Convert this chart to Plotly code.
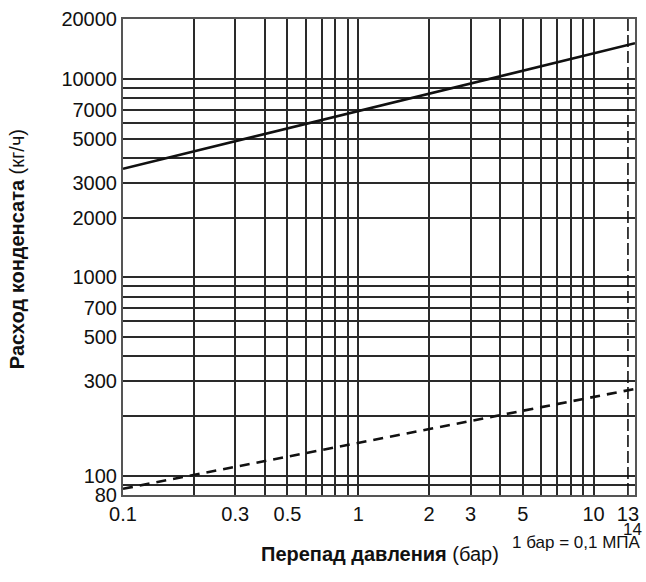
import math
import plotly.graph_objects as go

# ---- data ----
dp_solid = [0.1, 1, 15]
q_solid = [3520, 6850, 15100]
dp_dashed = [0.1, 1, 15]
q_dashed = [86, 147, 274]
limit_dp = [14, 14]
limit_q = [80, 20000]

x_grid = [0.2, 0.3, 0.4, 0.5, 0.6, 0.7, 0.8, 0.9, 1, 2, 3, 4, 5, 6, 7, 8, 9, 10]
x_tickvals = [0.1, 0.3, 0.5, 1, 2, 3, 5, 10, 14]
x_ticktext = ["0.1", "0.3", "0.5", "1", "2", "3", "5", "10", "13"]
y_grid = [90, 100, 200, 300, 400, 500, 600, 700, 800, 900, 1000,
          2000, 3000, 4000, 5000, 6000, 7000, 8000, 9000, 10000]
y_tickvals = [80, 100, 300, 500, 700, 1000, 2000, 3000, 5000, 7000, 10000, 20000]
y_ticktext = ["80", "100", "300", "500", "700", "1000", "2000", "3000",
              "5000", "7000", "10000", "20000"]
x_range = [0.1, 15]
y_range = [80, 20000]

FONT = "Liberation Sans, Arial, sans-serif"

fig = go.Figure()
fig.add_trace(go.Scatter(x=dp_solid, y=q_solid, mode="lines",
                         line=dict(color="#111", width=2.6), showlegend=False))
fig.add_trace(go.Scatter(x=dp_dashed, y=q_dashed, mode="lines",
                         line=dict(color="#111", width=2.6, dash="10px,7px"), showlegend=False))
fig.add_trace(go.Scatter(x=limit_dp, y=limit_q, mode="lines",
                         line=dict(color="#111", width=1.6, dash="12px,4px"), showlegend=False))

fig.update_xaxes(type="log", range=[math.log10(x_range[0]), math.log10(x_range[1])],
                 tickmode="array", tickvals=x_tickvals, ticktext=x_ticktext,
                 showgrid=False, ticks="", zeroline=False,
                 showline=True, mirror=True, linecolor="#555", linewidth=2,
                 tickfont=dict(family=FONT, size=20, color="#111"),
                 minor=dict(tickmode="array", tickvals=x_grid, showgrid=True,
                            gridcolor="#2a2a2a", gridwidth=1.6, ticks=""))
fig.update_yaxes(type="log", range=[math.log10(y_range[0]), math.log10(y_range[1])],
                 tickmode="array", tickvals=y_tickvals, ticktext=y_ticktext,
                 showgrid=False, ticks="", zeroline=False,
                 showline=True, mirror=True, linecolor="#555", linewidth=2,
                 tickfont=dict(family=FONT, size=20, color="#111"),
                 minor=dict(tickmode="array", tickvals=y_grid, showgrid=True,
                            gridcolor="#2a2a2a", gridwidth=1.6, ticks=""))

L, R, T, B = 122.7, 639, 19, 495
W, H = 646, 582
pw, ph = R - L, B - T

def px(xp):
    return (xp - L) / pw

def py(yp):
    return (B - yp) / ph

annotations = [
    dict(text="<b>Перепад давления</b> (бар)", x=px(382), y=py(554),
         xanchor="center", yanchor="middle", font=dict(size=20)),
    dict(text="<b>Расход конденсата</b> (кг/ч)", x=px(16), y=py(249), textangle=-90,
         xanchor="center", yanchor="middle", font=dict(size=20)),
    dict(text="1 бар = 0,1 МПА", x=px(646), y=py(542),
         xanchor="right", yanchor="middle", font=dict(size=17)),
    dict(text="14", x=px(647), y=py(529),
         xanchor="right", yanchor="middle", font=dict(size=17)),
]
for a in annotations:
    a.update(xref="paper", yref="paper", showarrow=False, borderpad=0)
    a["font"].update(family=FONT, color="#111")

fig.update_layout(width=W, height=H,
                  margin=dict(l=L, r=W - R, t=T, b=H - B, pad=0),
                  paper_bgcolor="white", plot_bgcolor="white",
                  annotations=annotations)
fig.write_html("out.html")
